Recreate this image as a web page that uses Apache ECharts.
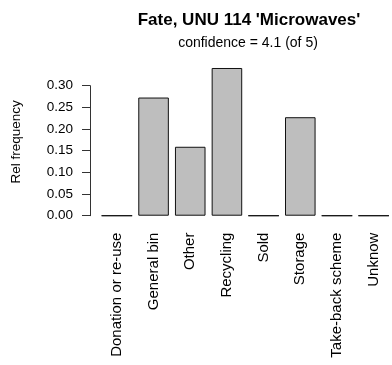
<!DOCTYPE html>
<html><head><meta charset="utf-8">
<script src="https://cdn.jsdelivr.net/npm/echarts@6/dist/echarts.min.js"></script>
<style>html,body{margin:0;padding:0;background:#fff}#c{width:392px;height:365px}</style>
</head><body><div id="c"></div>
<script>
const titleText = "Fate, UNU 114 'Microwaves'";
const subtitleText = "confidence = 4.1 (of 5)";
const yName = "Rel frequency";
const categories = ['Donation or re-use','General bin','Other','Recycling','Sold','Storage','Take-back scheme','Unknow'];
const values = [0, 0.2727, 0.1591, 0.3409, 0, 0.2273, 0, 0];
const yTicks = [0, 0.05, 0.10, 0.15, 0.20, 0.25, 0.30];

const FONT = 'Liberation Sans, Arial, Helvetica, sans-serif';
const chart = echarts.init(document.getElementById('c'), null, {renderer:'canvas'});
chart.setOption({
  animation: false,
  backgroundColor: '#fff',
  title: [
    {text: titleText, left: 249, top: 12, textAlign: 'center', padding: 0,
     textStyle: {fontFamily: FONT, fontSize: 17, fontWeight: 'bold', color: '#000', lineHeight: 17}},
    {text: subtitleText, left: 248, top: 36, textAlign: 'center', padding: 0,
     textStyle: {fontFamily: FONT, fontSize: 14, fontWeight: 'normal', color: '#000', lineHeight: 14}}
  ],
  grid: [
    {left: 98.54, right: -5.1, top: 62.1, bottom: 143.4, containLabel: false},
    {left: 90, right: 200, top: 85.7, bottom: 149.3, containLabel: false}
  ],
  xAxis: [
    {type: 'category', gridIndex: 0, data: categories, boundaryGap: true,
     axisLine: {show: false}, axisTick: {show: false}, splitLine: {show: false},
     axisLabel: {interval: 0, rotate: 90, margin: 11, fontFamily: FONT, fontSize: 15, color: '#000'}},
    {type: 'category', gridIndex: 1, show: false, data: categories}
  ],
  yAxis: [
    {type: 'value', gridIndex: 0, min: -0.0136, max: 0.3545,
     axisLine: {show: false}, axisTick: {show: false}, axisLabel: {show: false}, splitLine: {show: false},
     name: yName, nameLocation: 'middle', nameGap: 75,
     nameTextStyle: {fontFamily: FONT, fontSize: 13.5, color: '#000'}},
    {type: 'value', gridIndex: 1, min: 0, max: 0.3, interval: 0.05,
     axisLine: {show: true, lineStyle: {color: '#333', width: 1}},
     axisTick: {show: true, length: 8, inside: false, lineStyle: {color: '#333', width: 1}},
     splitLine: {show: false},
     axisLabel: {margin: 17, fontFamily: FONT, fontSize: 13.5, color: '#000',
       customValues: yTicks, formatter: v => v.toFixed(2)}}
  ],
  series: [{
    type: 'bar', xAxisIndex: 0, yAxisIndex: 0, data: values,
    barCategoryGap: '16.67%',
    itemStyle: {color: '#bebebe', borderColor: '#111', borderWidth: 1},
    emphasis: {disabled: true}
  }]
});
</script></body></html>
